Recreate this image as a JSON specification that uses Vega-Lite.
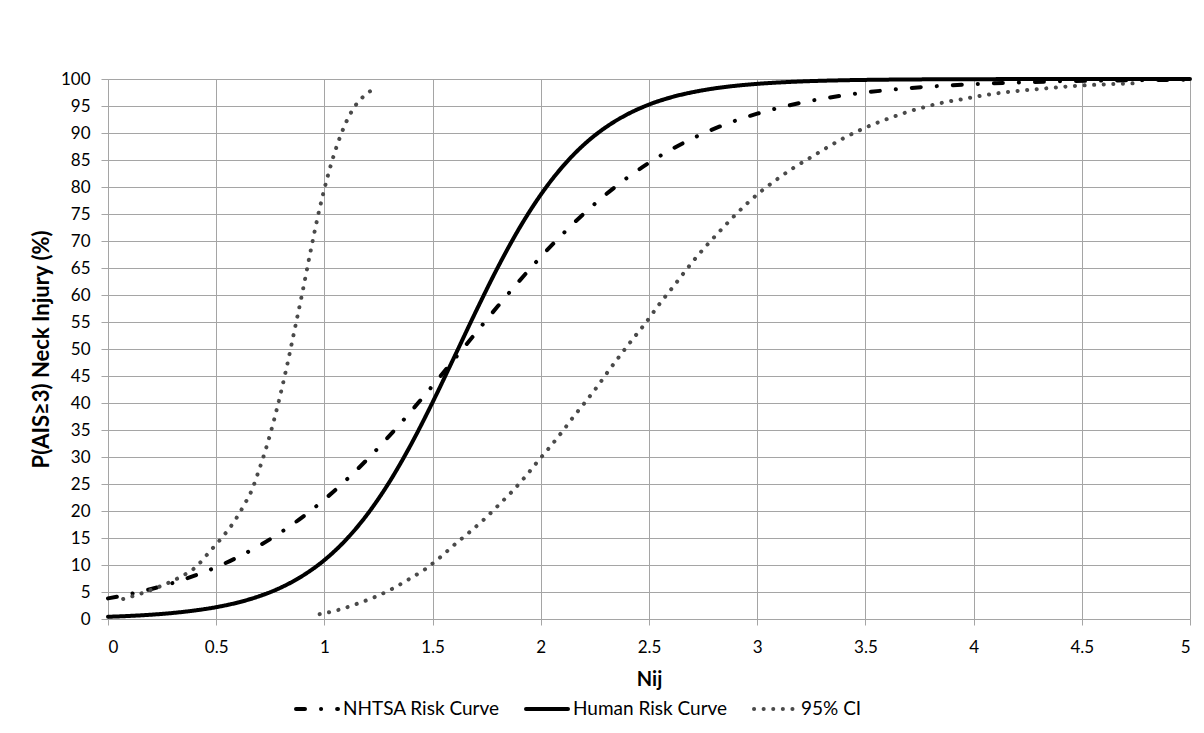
{
  "$schema": "https://vega.github.io/schema/vega-lite/v6.json",
  "width": 1082,
  "height": 540,
  "autosize": {"type": "none"},
  "padding": {"left": 108, "top": 79, "right": 14, "bottom": 114},
  "background": "white",
  "config": {
    "font": "Lato",
    "view": {"stroke": null},
    "axis": {
      "gridColor": "#a5a5a5", "domainColor": "#a5a5a5", "tickColor": "#a5a5a5",
      "gridWidth": 1, "domainWidth": 1, "tickWidth": 1,
      "labelFont": "Lato", "labelFontSize": 17, "labelColor": "#000000",
      "titleFont": "Lato", "titleFontSize": 20, "titleFontWeight": "bold", "titleColor": "#000000"
    },
    "legend": {
      "orient": "none", "legendX": 186, "legendY": 607, "direction": "horizontal",
      "symbolType": "stroke", "symbolSize": 1764, "symbolStrokeWidth": 4,
      "labelFont": "Lato", "labelFontSize": 19, "labelColor": "#000000", "labelOffset": 3,
      "columnPadding": 18, "padding": 0
    }
  },
  "data": {"values": [
    {"series": "NHTSA Risk Curve", "part": "n", "nij": 0.0, "p": 3.82},
    {"series": "NHTSA Risk Curve", "part": "n", "nij": 0.1, "p": 4.61},
    {"series": "NHTSA Risk Curve", "part": "n", "nij": 0.2, "p": 5.56},
    {"series": "NHTSA Risk Curve", "part": "n", "nij": 0.3, "p": 6.68},
    {"series": "NHTSA Risk Curve", "part": "n", "nij": 0.4, "p": 8.02},
    {"series": "NHTSA Risk Curve", "part": "n", "nij": 0.5, "p": 9.60},
    {"series": "NHTSA Risk Curve", "part": "n", "nij": 0.6, "p": 11.45},
    {"series": "NHTSA Risk Curve", "part": "n", "nij": 0.7, "p": 13.60},
    {"series": "NHTSA Risk Curve", "part": "n", "nij": 0.8, "p": 16.08},
    {"series": "NHTSA Risk Curve", "part": "n", "nij": 0.9, "p": 18.92},
    {"series": "NHTSA Risk Curve", "part": "n", "nij": 1.0, "p": 22.13},
    {"series": "NHTSA Risk Curve", "part": "n", "nij": 1.1, "p": 25.71},
    {"series": "NHTSA Risk Curve", "part": "n", "nij": 1.2, "p": 29.64},
    {"series": "NHTSA Risk Curve", "part": "n", "nij": 1.3, "p": 33.91},
    {"series": "NHTSA Risk Curve", "part": "n", "nij": 1.4, "p": 38.45},
    {"series": "NHTSA Risk Curve", "part": "n", "nij": 1.5, "p": 43.20},
    {"series": "NHTSA Risk Curve", "part": "n", "nij": 1.6, "p": 48.08},
    {"series": "NHTSA Risk Curve", "part": "n", "nij": 1.7, "p": 53.00},
    {"series": "NHTSA Risk Curve", "part": "n", "nij": 1.8, "p": 57.86},
    {"series": "NHTSA Risk Curve", "part": "n", "nij": 1.9, "p": 62.57},
    {"series": "NHTSA Risk Curve", "part": "n", "nij": 2.0, "p": 67.06},
    {"series": "NHTSA Risk Curve", "part": "n", "nij": 2.1, "p": 71.25},
    {"series": "NHTSA Risk Curve", "part": "n", "nij": 2.2, "p": 75.11},
    {"series": "NHTSA Risk Curve", "part": "n", "nij": 2.3, "p": 78.60},
    {"series": "NHTSA Risk Curve", "part": "n", "nij": 2.4, "p": 81.73},
    {"series": "NHTSA Risk Curve", "part": "n", "nij": 2.5, "p": 84.49},
    {"series": "NHTSA Risk Curve", "part": "n", "nij": 2.6, "p": 86.89},
    {"series": "NHTSA Risk Curve", "part": "n", "nij": 2.7, "p": 88.98},
    {"series": "NHTSA Risk Curve", "part": "n", "nij": 2.8, "p": 90.77},
    {"series": "NHTSA Risk Curve", "part": "n", "nij": 2.9, "p": 92.29},
    {"series": "NHTSA Risk Curve", "part": "n", "nij": 3.0, "p": 93.58},
    {"series": "NHTSA Risk Curve", "part": "n", "nij": 3.2, "p": 95.58},
    {"series": "NHTSA Risk Curve", "part": "n", "nij": 3.4, "p": 96.97},
    {"series": "NHTSA Risk Curve", "part": "n", "nij": 3.6, "p": 97.94},
    {"series": "NHTSA Risk Curve", "part": "n", "nij": 3.8, "p": 98.60},
    {"series": "NHTSA Risk Curve", "part": "n", "nij": 4.0, "p": 99.05},
    {"series": "NHTSA Risk Curve", "part": "n", "nij": 4.2, "p": 99.36},
    {"series": "NHTSA Risk Curve", "part": "n", "nij": 4.4, "p": 99.57},
    {"series": "NHTSA Risk Curve", "part": "n", "nij": 4.6, "p": 99.71},
    {"series": "NHTSA Risk Curve", "part": "n", "nij": 4.8, "p": 99.80},
    {"series": "NHTSA Risk Curve", "part": "n", "nij": 5.0, "p": 99.87},
    {"series": "Human Risk Curve", "part": "h", "nij": 0.0, "p": 0.41},
    {"series": "Human Risk Curve", "part": "h", "nij": 0.1, "p": 0.57},
    {"series": "Human Risk Curve", "part": "h", "nij": 0.2, "p": 0.80},
    {"series": "Human Risk Curve", "part": "h", "nij": 0.3, "p": 1.12},
    {"series": "Human Risk Curve", "part": "h", "nij": 0.4, "p": 1.57},
    {"series": "Human Risk Curve", "part": "h", "nij": 0.5, "p": 2.19},
    {"series": "Human Risk Curve", "part": "h", "nij": 0.6, "p": 3.05},
    {"series": "Human Risk Curve", "part": "h", "nij": 0.7, "p": 4.23},
    {"series": "Human Risk Curve", "part": "h", "nij": 0.8, "p": 5.84},
    {"series": "Human Risk Curve", "part": "h", "nij": 0.9, "p": 8.02},
    {"series": "Human Risk Curve", "part": "h", "nij": 1.0, "p": 10.91},
    {"series": "Human Risk Curve", "part": "h", "nij": 1.1, "p": 14.68},
    {"series": "Human Risk Curve", "part": "h", "nij": 1.2, "p": 19.47},
    {"series": "Human Risk Curve", "part": "h", "nij": 1.3, "p": 25.35},
    {"series": "Human Risk Curve", "part": "h", "nij": 1.4, "p": 32.30},
    {"series": "Human Risk Curve", "part": "h", "nij": 1.5, "p": 40.13},
    {"series": "Human Risk Curve", "part": "h", "nij": 1.6, "p": 48.50},
    {"series": "Human Risk Curve", "part": "h", "nij": 1.7, "p": 56.95},
    {"series": "Human Risk Curve", "part": "h", "nij": 1.8, "p": 65.02},
    {"series": "Human Risk Curve", "part": "h", "nij": 1.9, "p": 72.31},
    {"series": "Human Risk Curve", "part": "h", "nij": 2.0, "p": 78.58},
    {"series": "Human Risk Curve", "part": "h", "nij": 2.1, "p": 83.75},
    {"series": "Human Risk Curve", "part": "h", "nij": 2.2, "p": 87.87},
    {"series": "Human Risk Curve", "part": "h", "nij": 2.3, "p": 91.05},
    {"series": "Human Risk Curve", "part": "h", "nij": 2.4, "p": 93.46},
    {"series": "Human Risk Curve", "part": "h", "nij": 2.5, "p": 95.26},
    {"series": "Human Risk Curve", "part": "h", "nij": 2.6, "p": 96.58},
    {"series": "Human Risk Curve", "part": "h", "nij": 2.7, "p": 97.54},
    {"series": "Human Risk Curve", "part": "h", "nij": 2.8, "p": 98.24},
    {"series": "Human Risk Curve", "part": "h", "nij": 2.9, "p": 98.74},
    {"series": "Human Risk Curve", "part": "h", "nij": 3.0, "p": 99.10},
    {"series": "Human Risk Curve", "part": "h", "nij": 3.2, "p": 99.54},
    {"series": "Human Risk Curve", "part": "h", "nij": 3.4, "p": 99.77},
    {"series": "Human Risk Curve", "part": "h", "nij": 3.6, "p": 99.88},
    {"series": "Human Risk Curve", "part": "h", "nij": 3.8, "p": 99.94},
    {"series": "Human Risk Curve", "part": "h", "nij": 4.0, "p": 99.97},
    {"series": "Human Risk Curve", "part": "h", "nij": 4.5, "p": 99.99},
    {"series": "Human Risk Curve", "part": "h", "nij": 5.0, "p": 100.0},
    {"series": "95% CI", "part": "lo", "nij": 0.07, "p": 3.7},
    {"series": "95% CI", "part": "lo", "nij": 0.166, "p": 4.9},
    {"series": "95% CI", "part": "lo", "nij": 0.25, "p": 6.2},
    {"series": "95% CI", "part": "lo", "nij": 0.33, "p": 7.7},
    {"series": "95% CI", "part": "lo", "nij": 0.408, "p": 9.7},
    {"series": "95% CI", "part": "lo", "nij": 0.466, "p": 12.3},
    {"series": "95% CI", "part": "lo", "nij": 0.525, "p": 15.0},
    {"series": "95% CI", "part": "lo", "nij": 0.579, "p": 17.8},
    {"series": "95% CI", "part": "lo", "nij": 0.626, "p": 20.9},
    {"series": "95% CI", "part": "lo", "nij": 0.667, "p": 24.1},
    {"series": "95% CI", "part": "lo", "nij": 0.697, "p": 27.5},
    {"series": "95% CI", "part": "lo", "nij": 0.725, "p": 30.9},
    {"series": "95% CI", "part": "lo", "nij": 0.75, "p": 34.3},
    {"series": "95% CI", "part": "lo", "nij": 0.784, "p": 39.5},
    {"series": "95% CI", "part": "lo", "nij": 0.825, "p": 46.5},
    {"series": "95% CI", "part": "lo", "nij": 0.862, "p": 53.5},
    {"series": "95% CI", "part": "lo", "nij": 0.899, "p": 60.6},
    {"series": "95% CI", "part": "lo", "nij": 0.933, "p": 67.5},
    {"series": "95% CI", "part": "lo", "nij": 0.97, "p": 74.6},
    {"series": "95% CI", "part": "lo", "nij": 1.012, "p": 81.5},
    {"series": "95% CI", "part": "lo", "nij": 1.05, "p": 86.7},
    {"series": "95% CI", "part": "lo", "nij": 1.097, "p": 91.7},
    {"series": "95% CI", "part": "lo", "nij": 1.14, "p": 94.9},
    {"series": "95% CI", "part": "lo", "nij": 1.2, "p": 97.4},
    {"series": "95% CI", "part": "lo", "nij": 1.237, "p": 98.4},
    {"series": "95% CI", "part": "hi", "nij": 0.978, "p": 0.9},
    {"series": "95% CI", "part": "hi", "nij": 1.066, "p": 1.7},
    {"series": "95% CI", "part": "hi", "nij": 1.15, "p": 2.8},
    {"series": "95% CI", "part": "hi", "nij": 1.235, "p": 4.1},
    {"series": "95% CI", "part": "hi", "nij": 1.314, "p": 5.6},
    {"series": "95% CI", "part": "hi", "nij": 1.392, "p": 7.4},
    {"series": "95% CI", "part": "hi", "nij": 1.468, "p": 9.3},
    {"series": "95% CI", "part": "hi", "nij": 1.537, "p": 11.5},
    {"series": "95% CI", "part": "hi", "nij": 1.605, "p": 13.9},
    {"series": "95% CI", "part": "hi", "nij": 1.674, "p": 16.2},
    {"series": "95% CI", "part": "hi", "nij": 1.742, "p": 18.6},
    {"series": "95% CI", "part": "hi", "nij": 1.805, "p": 21.1},
    {"series": "95% CI", "part": "hi", "nij": 1.867, "p": 23.6},
    {"series": "95% CI", "part": "hi", "nij": 1.927, "p": 26.3},
    {"series": "95% CI", "part": "hi", "nij": 1.984, "p": 29.1},
    {"series": "95% CI", "part": "hi", "nij": 2.041, "p": 31.8},
    {"series": "95% CI", "part": "hi", "nij": 2.097, "p": 34.6},
    {"series": "95% CI", "part": "hi", "nij": 2.152, "p": 37.5},
    {"series": "95% CI", "part": "hi", "nij": 2.208, "p": 40.3},
    {"series": "95% CI", "part": "hi", "nij": 2.262, "p": 43.1},
    {"series": "95% CI", "part": "hi", "nij": 2.314, "p": 46.0},
    {"series": "95% CI", "part": "hi", "nij": 2.368, "p": 48.9},
    {"series": "95% CI", "part": "hi", "nij": 2.422, "p": 51.7},
    {"series": "95% CI", "part": "hi", "nij": 2.48, "p": 54.6},
    {"series": "95% CI", "part": "hi", "nij": 2.557, "p": 58.8},
    {"series": "95% CI", "part": "hi", "nij": 2.611, "p": 61.5},
    {"series": "95% CI", "part": "hi", "nij": 2.667, "p": 64.4},
    {"series": "95% CI", "part": "hi", "nij": 2.721, "p": 67.1},
    {"series": "95% CI", "part": "hi", "nij": 2.778, "p": 69.7},
    {"series": "95% CI", "part": "hi", "nij": 2.836, "p": 72.2},
    {"series": "95% CI", "part": "hi", "nij": 2.898, "p": 74.8},
    {"series": "95% CI", "part": "hi", "nij": 2.96, "p": 77.2},
    {"series": "95% CI", "part": "hi", "nij": 3.024, "p": 79.4},
    {"series": "95% CI", "part": "hi", "nij": 3.094, "p": 81.5},
    {"series": "95% CI", "part": "hi", "nij": 3.166, "p": 83.5},
    {"series": "95% CI", "part": "hi", "nij": 3.24, "p": 85.3},
    {"series": "95% CI", "part": "hi", "nij": 3.314, "p": 87.1},
    {"series": "95% CI", "part": "hi", "nij": 3.388, "p": 88.8},
    {"series": "95% CI", "part": "hi", "nij": 3.462, "p": 90.3},
    {"series": "95% CI", "part": "hi", "nij": 3.542, "p": 91.7},
    {"series": "95% CI", "part": "hi", "nij": 3.622, "p": 92.9},
    {"series": "95% CI", "part": "hi", "nij": 3.702, "p": 94.0},
    {"series": "95% CI", "part": "hi", "nij": 3.783, "p": 94.9},
    {"series": "95% CI", "part": "hi", "nij": 3.867, "p": 95.7},
    {"series": "95% CI", "part": "hi", "nij": 3.952, "p": 96.3},
    {"series": "95% CI", "part": "hi", "nij": 4.034, "p": 96.9},
    {"series": "95% CI", "part": "hi", "nij": 4.118, "p": 97.4},
    {"series": "95% CI", "part": "hi", "nij": 4.205, "p": 97.8},
    {"series": "95% CI", "part": "hi", "nij": 4.289, "p": 98.1},
    {"series": "95% CI", "part": "hi", "nij": 4.374, "p": 98.4},
    {"series": "95% CI", "part": "hi", "nij": 4.46, "p": 98.7},
    {"series": "95% CI", "part": "hi", "nij": 4.547, "p": 98.9},
    {"series": "95% CI", "part": "hi", "nij": 4.63, "p": 99.05},
    {"series": "95% CI", "part": "hi", "nij": 4.742, "p": 99.2}
  ]},
  "mark": {"type": "line", "strokeWidth": 4, "strokeCap": "round", "strokeJoin": "round", "interpolate": "monotone"},
  "encoding": {
    "x": {
      "field": "nij", "type": "quantitative",
      "scale": {"domain": [0, 5], "nice": false, "zero": false},
      "axis": {
        "title": "Nij", "format": "~g",
        "values": [0, 0.5, 1, 1.5, 2, 2.5, 3, 3.5, 4, 4.5, 5],
        "tickSize": 6, "labelPadding": 14, "titlePadding": 14
      }
    },
    "y": {
      "field": "p", "type": "quantitative",
      "scale": {"domain": [0, 100], "nice": false},
      "axis": {
        "title": "P(AIS≥3) Neck Injury (%)", "format": "d", "titleFontSize": 22,
        "values": [0, 5, 10, 15, 20, 25, 30, 35, 40, 45, 50, 55, 60, 65, 70, 75, 80, 85, 90, 95, 100],
        "tickSize": 7, "labelPadding": 11, "titlePadding": 7
      }
    },
    "color": {
      "field": "series", "type": "nominal",
      "scale": {"domain": ["NHTSA Risk Curve", "Human Risk Curve", "95% CI"], "range": ["#000000", "#000000", "#4a4a4a"]},
      "legend": {"title": null, "encode": {"symbols": {"update": {"strokeCap": {"value": "round"}}}}}
    },
    "strokeDash": {
      "field": "series", "type": "nominal",
      "scale": {"domain": ["NHTSA Risk Curve", "Human Risk Curve", "95% CI"], "range": [[9, 16, 0.1, 16], [1, 0], [0.1, 9.5]]},
      "legend": {"title": null, "encode": {"symbols": {"update": {"strokeCap": {"value": "round"}}}}}
    },
    "detail": {"field": "part"}
  }
}
